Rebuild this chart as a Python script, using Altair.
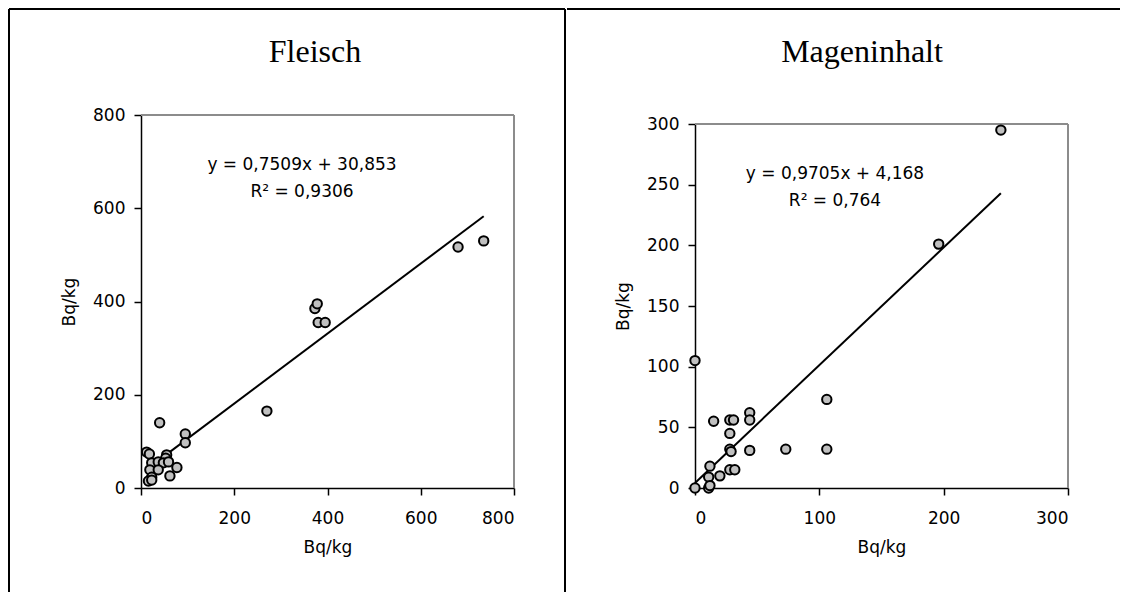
import altair as alt
import pandas as pd

# ---------------- data ----------------
fleisch_x = [680, 735, 373, 378, 380, 395, 270, 40, 95, 95, 12, 18, 55, 53, 23, 37, 48, 59, 19, 37, 77, 62, 23, 16, 23]
fleisch_y = [517, 530, 385, 395, 355, 355, 165, 140, 116, 97, 77, 73, 71, 64, 54, 56, 54, 56, 39, 39, 44, 26, 23, 15, 17]
magen_x = [246, 196, 106, 106, 73, 0, 44, 44, 15, 28, 31, 28, 28, 29, 44, 12, 11, 20, 28, 32, 0, 11, 12]
magen_y = [295, 201, 73, 32, 32, 105, 62, 56, 55, 56, 56, 45, 32, 30, 31, 18, 9, 10, 15, 15, 0, 0, 2]

fleisch_coef = [0.7509, 30.853]
magen_coef = [0.9705, 4.168]
fleisch_eq = ["y = 0,7509x + 30,853", "R² = 0,9306"]
magen_eq = ["y = 0,9705x + 4,168", "R² = 0,764"]
titles = ["Fleisch", "Mageninhalt"]
axis_title = "Bq/kg"
fleisch_ticks = [0, 200, 400, 600, 800]
magen_xticks = [0, 100, 200, 300]
magen_yticks = [0, 50, 100, 150, 200, 250, 300]

SANS = "DejaVu Sans"
SERIF = "Liberation Serif"
FS = 17
W = 373
H = 373
one = pd.DataFrame({"k": [0]})
FRAME = "#8c8c8c"


def hrule(x1, x2, y, color="black", w=2):
    return alt.Chart(one).mark_rule(color=color, strokeWidth=w).encode(
        x=alt.value(x1), x2=alt.value(x2), y=alt.value(y))


def vrule(x, y1, y2, color="black", w=2):
    return alt.Chart(one).mark_rule(color=color, strokeWidth=w).encode(
        x=alt.value(x), y=alt.value(y1), y2=alt.value(y2))


def label(txt, x, y, size, font):
    return alt.Chart(one).mark_text(font=font, fontSize=size, color="black",
                                    align="center", baseline="alphabetic").encode(
        x=alt.value(x), y=alt.value(y), text=alt.value(txt))


def panel(xs, ys, coef, eq, title, xdom, xticks, ydom, yticks, yrange,
          top, title_x, eq_x, eq_y, deco):
    df = pd.DataFrame({"x": xs, "y": ys})
    line_df = pd.DataFrame({"x": [min(xs), max(xs)]})
    axis_common = dict(domainColor="black", domainWidth=1.5, tickColor="black",
                       tickSize=7, tickWidth=1.5, labelFont=SANS, labelFontSize=FS,
                       labelColor="black", titleFont=SANS, titleFontSize=FS,
                       titleFontWeight="normal", titleColor="black", grid=False)
    xenc = alt.X("x:Q", title=axis_title,
                 scale=alt.Scale(domain=xdom, nice=False, zero=False),
                 axis=alt.Axis(values=xticks, labelPadding=15, titlePadding=13,
                               **axis_common))
    if yrange is not None:
        yscale = alt.Scale(domain=ydom, nice=False, zero=False, range=yrange)
    else:
        yscale = alt.Scale(domain=ydom, nice=False, zero=False)
    yenc = alt.Y("y:Q", title=axis_title, scale=yscale,
                 axis=alt.Axis(values=yticks, labelPadding=9, titlePadding=14,
                               **axis_common))

    line = alt.Chart(line_df).transform_calculate(
        y=f"{coef[0]} * datum.x + {coef[1]}"
    ).mark_line(color="black", strokeWidth=2).encode(x=xenc, y=yenc)

    pts = alt.Chart(df).mark_point(shape="circle", filled=True, fill="#c0c0c0",
                                   stroke="black", strokeWidth=2, size=88,
                                   opacity=1).encode(x=xenc, y=yenc)

    frame = [hrule(0, W, top, FRAME, 2), vrule(W, top, H, FRAME, 2)]
    texts = [label(title, title_x, -53, 32, SERIF),
             label(eq[0], eq_x, eq_y, FS, SANS),
             label(eq[1], eq_x, eq_y + 27, FS, SANS)]
    return alt.layer(*frame, line, pts, *texts, *deco).properties(width=W, height=H)


left = panel(fleisch_x, fleisch_y, fleisch_coef, fleisch_eq, titles[0],
             [0, 800], fleisch_ticks, [0, 800], fleisch_ticks, None, 0,
             174, 161, 55,
             [vrule(-132, -106, 477), hrule(-132, 424, -106), vrule(424, -106, 477)])

right = panel(magen_x, magen_y, magen_coef, magen_eq, titles[1],
              [0, 300], magen_xticks, [0, 300], magen_yticks, [H, 9], 9,
              167, 140, 64,
              [hrule(-128, 425, -106)])

chart = alt.hconcat(left, right, spacing=0).properties(
    padding=0, background="white"
).configure_view(strokeWidth=0)

chart.save("out.html", embed_options={"renderer": "svg", "actions": False})
